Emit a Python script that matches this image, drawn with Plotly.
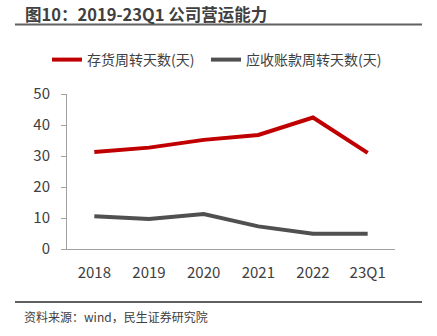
import plotly.graph_objects as go

categories = ["2018", "2019", "2020", "2021", "2022", "23Q1"]
inventory_days = [31.3, 32.7, 35.2, 36.8, 42.4, 31.0]
receivable_days = [10.6, 9.7, 11.3, 7.3, 4.9, 4.9]
series_names = ["存货周转天数(天)", "应收账款周转天数(天)"]
y_ticks = [0, 10, 20, 30, 40, 50]

FONT = "Noto Sans CJK SC, Microsoft YaHei, sans-serif"
TXT = "#404040"

H, W = 336, 437
pt, pb, pl, pr = 94, 87, 67, 42
ph = H - pt - pb
pw = W - pl - pr
def py(p):
    return (H - pb - p) / ph
def px(p):
    return (p - pl) / pw

fig = go.Figure()
fig.add_trace(go.Scatter(x=categories, y=inventory_days, name=series_names[0],
                         mode="lines", line=dict(color="#C00000", width=4),
                         legend="legend"))
fig.add_trace(go.Scatter(x=categories, y=receivable_days, name=series_names[1],
                         mode="lines", line=dict(color="#505050", width=4),
                         legend="legend2"))

leg_common = dict(orientation="h", yanchor="middle", xanchor="left",
                  font=dict(size=14, color=TXT, family=FONT),
                  bgcolor="rgba(0,0,0,0)", borderwidth=0, itemwidth=30)

fig.update_layout(
    width=W, height=H,
    margin=dict(l=pl, r=pr, t=pt, b=pb),
    paper_bgcolor="white", plot_bgcolor="white",
    font=dict(family=FONT, size=15, color=TXT),
    showlegend=True,
    legend=dict(x=px(47), y=py(60), **leg_common),
    legend2=dict(x=px(206), y=py(60), **leg_common),
    xaxis=dict(type="category", range=[-0.5, 5.5], showline=True, linecolor="#A0A0A0",
               linewidth=1, ticks="", showgrid=False, ticklabelstandoff=10,
               tickfont=dict(size=15, color=TXT)),
    yaxis=dict(range=[0, 50], tickvals=y_ticks, showline=True, linecolor="#A0A0A0",
               linewidth=1, ticks="outside", ticklen=5, tickcolor="#A0A0A0",
               ticklabelstandoff=8,
               showgrid=False, zeroline=False, tickfont=dict(size=15, color=TXT)),
    shapes=[
        dict(type="line", xref="paper", yref="paper", x0=px(15), x1=px(422),
             y0=py(24.5), y1=py(24.5), line=dict(color="#606060", width=2)),
        dict(type="line", xref="paper", yref="paper", x0=px(15), x1=px(422),
             y0=py(302), y1=py(302), line=dict(color="#606060", width=2)),
    ],
)

fig.add_annotation(text="<b>图10：2019-23Q1 公司营运能力</b>", xref="paper", yref="paper",
                   x=px(23), y=py(13.5), showarrow=False, xanchor="left", yanchor="middle",
                   font=dict(size=16.5, color=TXT, family=FONT))
fig.add_annotation(text="资料来源：wind，民生证券研究院", xref="paper", yref="paper",
                   x=px(22), y=py(316), showarrow=False, xanchor="left", yanchor="middle",
                   font=dict(size=12, color=TXT, family=FONT))

fig.write_html("out.html")
